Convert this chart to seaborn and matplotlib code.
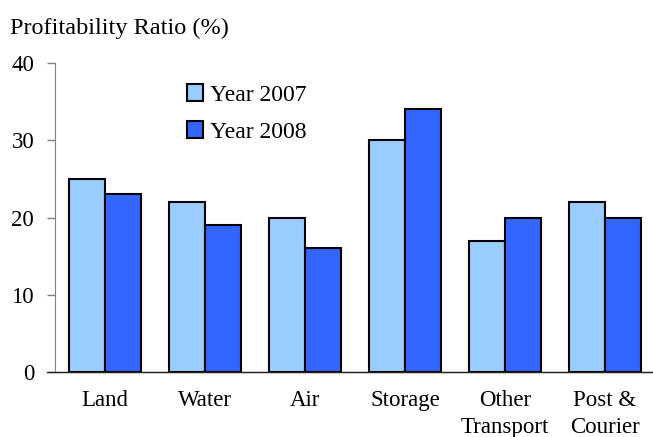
import matplotlib
matplotlib.use("Agg")
import matplotlib.pyplot as plt
import seaborn as sns
import pandas as pd

# donnees
categories = ["Land", "Water", "Air", "Storage", "Other\nTransport", "Post &\nCourier"]
annees = ["Year 2007", "Year 2008"]
ratio_2007 = [25, 22, 20, 30, 17, 22]
ratio_2008 = [23, 19, 16, 34, 20, 20]
couleurs = ["#99CCFF", "#3366FF"]

df = pd.DataFrame({
    "categorie": categories * 2,
    "annee": [annees[0]] * len(categories) + [annees[1]] * len(categories),
    "ratio": ratio_2007 + ratio_2008,
})

sns.set_style("white")
plt.rcParams["font.family"] = ["Liberation Serif", "DejaVu Serif"]
plt.rcParams["text.color"] = "black"
plt.rcParams["xtick.labelcolor"] = "black"
plt.rcParams["ytick.labelcolor"] = "black"

fig = plt.figure(figsize=(6.53, 4.37), dpi=100)
ax = fig.add_axes([55 / 653, 1 - 372 / 437, 1 - 55 / 653, (372 - 63) / 437])

sns.barplot(data=df, x="categorie", y="ratio", hue="annee", palette=couleurs,
            saturation=1, width=0.72, edgecolor="black", linewidth=1.5, ax=ax)

ax.set_xlim(-0.5, 5.48)
ax.set_ylim(0, 40)
ax.set_yticks([0, 10, 20, 30, 40])
ax.set_xlabel("")
ax.set_ylabel("")

for s in ["top", "right"]:
    ax.spines[s].set_visible(False)
ax.spines["left"].set_color("#808080")
ax.spines["bottom"].set_color("#202020")
ax.axhline(0, xmin=-0.014, xmax=1, color="#202020", lw=1, clip_on=False)

ax.tick_params(axis="y", length=6, width=1, color="#808080", pad=9, labelsize=16.5, left=True)
ax.tick_params(axis="x", length=0, pad=13, labelsize=16.5)
for t in ax.get_xticklabels():
    t.set_linespacing(1.35)

leg = ax.legend(loc="upper left", bbox_to_anchor=(0.185, 1.0), frameon=False,
                fontsize=17, handlelength=0.7, handleheight=0.7, handletextpad=0.3,
                labelspacing=0.65)

fig.text(10 / 653, 1 - 28 / 437, "Profitability Ratio (%)", fontsize=17.5, va="center", ha="left")

fig.savefig("out.png", dpi=100)
